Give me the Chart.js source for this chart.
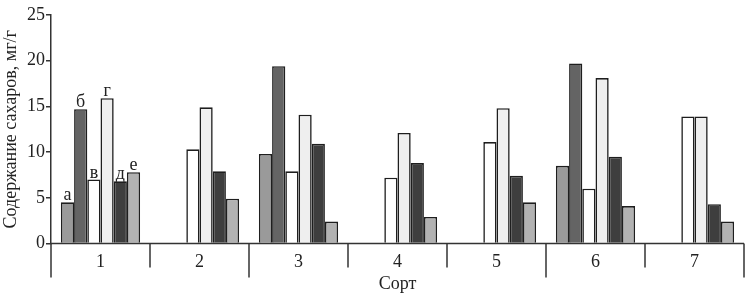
<!DOCTYPE html>
<html><head><meta charset="utf-8">
<script src="https://cdn.jsdelivr.net/npm/chart.js@4/dist/chart.umd.min.js"></script>
<style>html,body{margin:0;padding:0;background:#fff;}canvas{display:block;}</style>
</head><body>
<canvas id="c" width="756" height="296"></canvas>
<script>
const categories = ['1','2','3','4','5','6','7'];
const seriesLabels = ['а','б','в','г','д','е'];
const seriesA = [4.5, null, 9.8, null, null, 8.5, null];
const seriesB = [14.7, null, 19.4, null, null, 19.7, null];
const seriesV = [7.0, 10.3, 7.9, 7.2, 11.1, 6.0, 13.9];
const seriesG = [15.9, 14.9, 14.1, 12.1, 14.8, 18.1, 13.9];
const seriesD = [6.8, 7.9, 10.9, 8.8, 7.4, 9.5, 4.3];
const seriesE = [7.8, 4.9, 2.4, 2.9, 4.5, 4.1, 2.4];
const yTicks = [0,5,10,15,20,25];
const colors = ['#9a9a9a','#646464','#ffffff','#efefef','#3e3e3e','#b2b2b2'];
const allSeries = [seriesA, seriesB, seriesV, seriesG, seriesD, seriesE];
const FONT = "'Liberation Serif', 'Times New Roman', serif";

const decor = {
  id: 'decor',
  afterDraw(chart) {
    const ctx = chart.ctx;
    const x = chart.scales.x, y = chart.scales.y;
    const area = chart.chartArea;
    const base = y.getPixelForValue(0);
    ctx.save();
    ctx.strokeStyle = '#333';
    ctx.lineWidth = 1.5;
    ctx.beginPath();
    ctx.moveTo(area.left, base);
    ctx.lineTo(area.right, base);
    ctx.stroke();
    const n = categories.length;
    for (let i = 0; i <= n; i++) {
      const px = i === 0 ? area.left : (i === n ? area.right : (x.getPixelForValue(i - 1) + x.getPixelForValue(i)) / 2);
      const longOnes = [0, 2, 5, 7];
      const len = longOnes.includes(i) ? 34 : 24;
      ctx.beginPath();
      ctx.moveTo(px, base);
      ctx.lineTo(px, base + len);
      ctx.stroke();
    }
    ctx.fillStyle = '#222';
    ctx.font = '18px ' + FONT;
    ctx.textAlign = 'center';
    ctx.textBaseline = 'alphabetic';
    for (let i = 0; i < seriesLabels.length; i++) {
      const el = chart.getDatasetMeta(i).data[0];
      ctx.fillText(seriesLabels[i], el.x, el.y - 2);
    }
    ctx.restore();
  }
};

new Chart(document.getElementById('c'), {
  type: 'bar',
  data: {
    labels: categories,
    datasets: allSeries.map((d, i) => ({
      label: seriesLabels[i],
      data: d,
      backgroundColor: colors[i],
      borderColor: '#1e1e1e',
      borderWidth: 1.6,
      borderSkipped: 'start',
      categoryPercentage: 0.8,
      barPercentage: 1.0
    }))
  },
  options: {
    responsive: false,
    animation: false,
    devicePixelRatio: 1,
    layout: { padding: { top: 15, right: 12, left: 0, bottom: 0 } },
    plugins: { legend: { display: false }, tooltip: { enabled: false } },
    scales: {
      x: {
        grid: { display: false },
        border: { display: false },
        ticks: { color: '#222', font: { family: FONT, size: 18 }, padding: 0 },
        title: { display: true, text: 'Сорт', color: '#222', font: { family: FONT, size: 18 }, padding: { top: 0, bottom: 1 } },
        afterFit(s) { s.height = 52.5; }
      },
      y: {
        min: 0, max: 25,
        afterBuildTicks(s) { s.ticks = yTicks.map(v => ({ value: v })); },
        ticks: { color: '#222', font: { family: FONT, size: 18 }, padding: 1 },
        grid: { drawOnChartArea: false, tickLength: 5, color: '#333', lineWidth: 1.5 },
        border: { color: '#333', width: 1.5 },
        title: { display: true, text: 'Содержание сахаров, мг/г', color: '#222', font: { family: FONT, size: 18 }, padding: { top: 0, bottom: 0 } },
        afterFit(s) { s.width = 51; }
      }
    }
  },
  plugins: [decor]
});
</script>
</body></html>
